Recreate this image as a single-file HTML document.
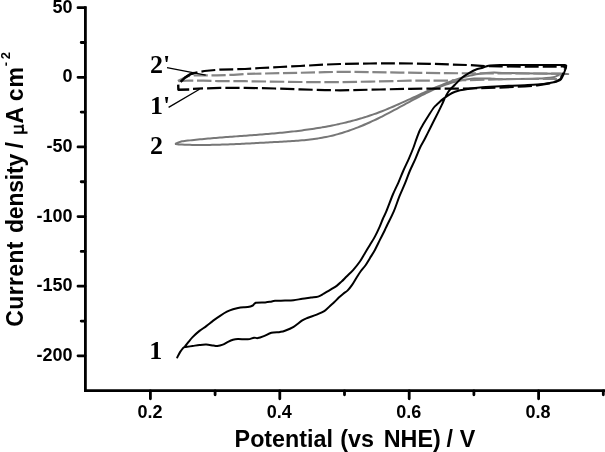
<!DOCTYPE html>
<html><head><meta charset="utf-8"><title>CV</title>
<style>
html,body{margin:0;padding:0;background:#fff;}
body{width:605px;height:452px;overflow:hidden;position:relative;}
svg{position:absolute;left:0;top:0;display:block;filter:grayscale(1);}
.s{font-family:"Liberation Sans",sans-serif;}
.r{font-family:"Liberation Serif",serif;}
</style></head><body>
<svg width="605" height="452" viewBox="0 0 605 452">
<path d="M85.4 6.3 V391.9" stroke="#000" stroke-width="2.8" fill="none"/>
<path d="M84 390.6 H606" stroke="#000" stroke-width="2.8" fill="none"/>
<path d="M78.0 7.66 H85 M78.0 77.30 H85 M78.0 146.94 H85 M78.0 216.58 H85 M78.0 286.22 H85 M78.0 355.86 H85 M81.2 42.48 H85 M81.2 112.12 H85 M81.2 181.76 H85 M81.2 251.40 H85 M81.2 321.04 H85 M150.40 391 V398.8 M279.80 391 V398.8 M409.20 391 V398.8 M538.60 391 V398.8 M215.10 391 V394.8 M344.50 391 V394.8 M473.90 391 V394.8 M603.30 391 V394.8" stroke="#000" stroke-width="2.8" stroke-linecap="round" fill="none"/>
<g class="s" font-weight="bold" font-size="18"><text x="72.5" y="12.7" text-anchor="end">50</text><text x="72.5" y="82.3" text-anchor="end">0</text><text x="72.5" y="151.9" text-anchor="end">-50</text><text x="72.5" y="221.6" text-anchor="end">-100</text><text x="72.5" y="291.2" text-anchor="end">-150</text><text x="72.5" y="360.9" text-anchor="end">-200</text><text x="149.9" y="418.3" text-anchor="middle">0.2</text><text x="279.3" y="418.3" text-anchor="middle">0.4</text><text x="408.7" y="418.3" text-anchor="middle">0.6</text><text x="538.1" y="418.3" text-anchor="middle">0.8</text></g>
<g class="s" font-weight="bold" font-size="23.3"><text x="234.6" y="447.2">Potential</text><text x="340.2" y="447.2">(vs</text><text x="383.8" y="447.2">NHE)</text><text x="446.6" y="447.2">/</text><text x="459.8" y="447.2">V</text></g>
<g class="s" font-weight="bold" font-size="23"><text transform="translate(23.3 326.7) rotate(-90)" textLength="85.2" lengthAdjust="spacing">Current</text><text transform="translate(23.3 233.0) rotate(-90)" textLength="79.2" lengthAdjust="spacing">density</text><text transform="translate(23.3 148.5) rotate(-90)">/</text><text transform="translate(23.3 123.4) rotate(-90)">A</text><text transform="translate(23.3 101.3) rotate(-90)" textLength="34.3" lengthAdjust="spacing">cm</text><text transform="translate(10 66.3) rotate(-90)" font-size="13" letter-spacing="2.7">-2</text></g>
<path d="M13.8 132.6 H27.5 M13.8 126.5 H22.4 M21.6 132.6 C23.6 131.5 23.6 127.5 21.6 126.5 M22.6 126.5 L23 124.6" stroke="#000" stroke-width="2.1" fill="none"/>
<path d="M175.00 143.90 C175.58 143.65 177.33 142.83 178.50 142.40 C179.67 141.97 180.75 141.57 182.00 141.31 C183.25 141.05 184.67 140.98 186.00 140.82 C187.33 140.66 188.67 140.52 190.00 140.37 C191.33 140.22 192.67 140.07 194.00 139.93 C195.33 139.79 196.67 139.65 198.00 139.52 C199.33 139.39 200.67 139.27 202.00 139.14 C203.33 139.01 204.67 138.88 206.00 138.76 C207.33 138.64 208.67 138.53 210.00 138.41 C211.33 138.29 212.67 138.18 214.00 138.07 C215.33 137.96 216.67 137.85 218.00 137.74 C219.33 137.63 220.67 137.53 222.00 137.43 C223.33 137.33 224.67 137.22 226.00 137.12 C227.33 137.02 228.67 136.92 230.00 136.82 C231.33 136.72 232.67 136.62 234.00 136.52 C235.33 136.42 236.67 136.33 238.00 136.23 C239.33 136.13 240.67 136.04 242.00 135.94 C243.33 135.84 244.67 135.75 246.00 135.65 C247.33 135.55 248.67 135.45 250.00 135.35 C251.33 135.25 252.67 135.15 254.00 135.05 C255.33 134.95 256.67 134.85 258.00 134.75 C259.33 134.65 260.67 134.54 262.00 134.43 C263.33 134.32 264.67 134.22 266.00 134.11 C267.33 134.00 268.67 133.89 270.00 133.77 C271.33 133.66 272.67 133.54 274.00 133.42 C275.33 133.30 276.67 133.18 278.00 133.05 C279.33 132.92 280.67 132.79 282.00 132.66 C283.33 132.53 284.67 132.40 286.00 132.26 C287.33 132.12 288.67 131.98 290.00 131.83 C291.33 131.68 292.67 131.53 294.00 131.38 C295.33 131.22 296.67 131.06 298.00 130.90 C299.33 130.74 300.67 130.56 302.00 130.39 C303.33 130.22 304.67 130.04 306.00 129.86 C307.33 129.68 308.67 129.48 310.00 129.29 C311.33 129.09 312.67 128.90 314.00 128.69 C315.33 128.48 316.67 128.27 318.00 128.05 C319.33 127.83 320.67 127.61 322.00 127.38 C323.33 127.15 324.67 126.92 326.00 126.67 C327.33 126.42 328.67 126.17 330.00 125.91 C331.33 125.65 332.67 125.38 334.00 125.11 C335.33 124.84 336.67 124.56 338.00 124.27 C339.33 123.98 340.67 123.69 342.00 123.38 C343.33 123.07 344.67 122.75 346.00 122.43 C347.33 122.11 348.67 121.78 350.00 121.44 C351.33 121.10 352.67 120.74 354.00 120.38 C355.33 120.02 356.67 119.65 358.00 119.27 C359.33 118.89 360.67 118.49 362.00 118.09 C363.33 117.69 364.67 117.28 366.00 116.86 C367.33 116.44 368.67 116.00 370.00 115.55 C371.33 115.10 372.67 114.64 374.00 114.17 C375.33 113.70 376.67 113.22 378.00 112.72 C379.33 112.22 380.67 111.72 382.00 111.20 C383.33 110.68 384.67 110.15 386.00 109.61 C387.33 109.07 388.67 108.51 390.00 107.95 C391.33 107.39 392.67 106.82 394.00 106.24 C395.33 105.66 396.67 105.07 398.00 104.48 C399.33 103.89 400.67 103.29 402.00 102.69 C403.33 102.09 404.67 101.48 406.00 100.87 C407.33 100.26 408.67 99.65 410.00 99.04 C411.33 98.43 412.67 97.81 414.00 97.19 C415.33 96.57 416.67 95.96 418.00 95.35 C419.33 94.74 420.67 94.13 422.00 93.52 C423.33 92.91 424.67 92.31 426.00 91.71 C427.33 91.11 428.67 90.51 430.00 89.92 C431.33 89.33 432.67 88.75 434.00 88.17 C435.33 87.59 436.67 87.03 438.00 86.47 C439.33 85.91 440.67 85.37 442.00 84.83 C443.33 84.29 444.67 83.75 446.00 83.24 C447.33 82.72 448.67 82.23 450.00 81.74 C451.33 81.25 452.67 80.77 454.00 80.31 C455.33 79.85 456.67 79.41 458.00 78.98 C459.33 78.55 460.67 78.13 462.00 77.74 C463.33 77.35 464.67 76.97 466.00 76.62 C467.33 76.27 468.67 75.93 470.00 75.62 C471.33 75.31 472.67 75.01 474.00 74.74 C475.33 74.47 476.67 74.22 478.00 74.00 C479.33 73.78 480.67 73.58 482.00 73.41 C483.33 73.24 484.67 73.09 486.00 72.97 C487.33 72.85 488.67 72.76 490.00 72.70 C491.33 72.64 492.67 72.60 494.00 72.60 C495.33 72.60 496.67 72.62 498.00 72.68 C499.33 72.74 495.50 72.82 502.00 72.96 C508.50 73.10 527.33 73.38 537.00 73.50 C546.67 73.62 554.80 73.62 560.00 73.70 C565.20 73.78 568.08 73.90 568.20 74.00 C568.32 74.10 562.37 74.10 560.70 74.30 C559.03 74.50 559.43 74.72 558.20 75.20 C556.97 75.68 556.80 76.63 553.30 77.20 C549.80 77.77 545.75 78.25 537.20 78.60 C528.65 78.95 508.53 79.22 502.00 79.29 C495.47 79.36 499.33 79.10 498.00 79.01 C496.67 78.92 495.33 78.84 494.00 78.77 C492.67 78.70 491.33 78.63 490.00 78.57 C488.67 78.51 487.33 78.46 486.00 78.43 C484.67 78.40 483.33 78.38 482.00 78.38 C480.67 78.38 479.33 78.39 478.00 78.43 C476.67 78.47 475.33 78.53 474.00 78.61 C472.67 78.69 471.33 78.80 470.00 78.93 C468.67 79.06 467.33 79.22 466.00 79.41 C464.67 79.60 463.33 79.83 462.00 80.08 C460.67 80.33 459.33 80.62 458.00 80.94 C456.67 81.26 455.33 81.61 454.00 81.98 C452.67 82.35 451.33 82.75 450.00 83.18 C448.67 83.61 447.33 84.06 446.00 84.54 C444.67 85.02 443.33 85.52 442.00 86.04 C440.67 86.56 439.33 87.10 438.00 87.66 C436.67 88.22 435.33 88.80 434.00 89.40 C432.67 90.00 431.33 90.62 430.00 91.25 C428.67 91.88 427.33 92.53 426.00 93.18 C424.67 93.84 423.33 94.50 422.00 95.18 C420.67 95.86 419.33 96.55 418.00 97.25 C416.67 97.95 415.33 98.66 414.00 99.37 C412.67 100.08 411.33 100.80 410.00 101.52 C408.67 102.24 407.33 102.97 406.00 103.70 C404.67 104.43 403.33 105.15 402.00 105.88 C400.67 106.61 399.33 107.34 398.00 108.07 C396.67 108.80 395.33 109.52 394.00 110.24 C392.67 110.96 391.33 111.67 390.00 112.38 C388.67 113.09 387.33 113.79 386.00 114.48 C384.67 115.17 383.33 115.85 382.00 116.52 C380.67 117.19 379.33 117.86 378.00 118.51 C376.67 119.16 375.33 119.80 374.00 120.42 C372.67 121.05 371.33 121.66 370.00 122.26 C368.67 122.86 367.33 123.45 366.00 124.03 C364.67 124.61 363.33 125.18 362.00 125.73 C360.67 126.28 359.33 126.82 358.00 127.34 C356.67 127.86 355.33 128.38 354.00 128.87 C352.67 129.37 351.33 129.84 350.00 130.31 C348.67 130.78 347.33 131.23 346.00 131.67 C344.67 132.11 343.33 132.53 342.00 132.93 C340.67 133.33 339.33 133.72 338.00 134.09 C336.67 134.46 335.33 134.82 334.00 135.16 C332.67 135.50 331.33 135.82 330.00 136.12 C328.67 136.42 327.33 136.71 326.00 136.98 C324.67 137.25 323.33 137.50 322.00 137.74 C320.67 137.98 319.33 138.19 318.00 138.40 C316.67 138.61 315.33 138.81 314.00 138.99 C312.67 139.17 311.33 139.34 310.00 139.50 C308.67 139.66 307.33 139.81 306.00 139.95 C304.67 140.09 303.33 140.22 302.00 140.34 C300.67 140.46 299.33 140.58 298.00 140.68 C296.67 140.78 295.33 140.88 294.00 140.97 C292.67 141.06 291.33 141.15 290.00 141.23 C288.67 141.31 287.33 141.39 286.00 141.47 C284.67 141.55 283.33 141.62 282.00 141.69 C280.67 141.76 279.33 141.83 278.00 141.90 C276.67 141.97 275.33 142.04 274.00 142.11 C272.67 142.18 271.33 142.25 270.00 142.32 C268.67 142.39 267.33 142.47 266.00 142.54 C264.67 142.61 263.33 142.69 262.00 142.76 C260.67 142.83 259.33 142.91 258.00 142.98 C256.67 143.05 255.33 143.12 254.00 143.19 C252.67 143.26 251.33 143.34 250.00 143.41 C248.67 143.48 247.33 143.54 246.00 143.61 C244.67 143.68 243.33 143.75 242.00 143.81 C240.67 143.88 239.33 143.94 238.00 144.00 C236.67 144.06 235.33 144.12 234.00 144.18 C232.67 144.24 231.33 144.29 230.00 144.34 C228.67 144.39 227.33 144.44 226.00 144.49 C224.67 144.54 223.33 144.58 222.00 144.62 C220.67 144.66 219.33 144.71 218.00 144.74 C216.67 144.78 215.33 144.80 214.00 144.83 C212.67 144.86 211.33 144.88 210.00 144.90 C208.67 144.92 207.33 144.93 206.00 144.94 C204.67 144.95 203.33 144.96 202.00 144.96 C200.67 144.96 199.33 144.96 198.00 144.95 C196.67 144.94 195.33 144.93 194.00 144.91 C192.67 144.89 191.33 144.87 190.00 144.84 C188.67 144.81 187.33 144.78 186.00 144.74 C184.67 144.70 183.25 144.63 182.00 144.59 C180.75 144.55 179.67 144.62 178.50 144.50 C177.33 144.38 175.58 144.00 175.00 143.90" stroke="#777" stroke-width="2" fill="none" stroke-linejoin="round"/>
<polyline points="177.9,81.1 182.0,79.0 187.2,76.5 193.8,75.4 216.9,75.3 233.5,74.8 247.6,73.9 280.0,73.2 325.0,72.2 340.0,71.8 370.0,72.1 400.0,72.6 420.0,72.8 445.0,73.1 475.0,73.4 505.0,73.4 560.0,73.6 563.0,74.2" stroke="#858585" stroke-width="2.2" fill="none" stroke-dasharray="14.2 3.68" stroke-dashoffset="1.0" stroke-linejoin="round"/>
<polyline points="563.0,74.2 560.0,77.5 557.0,79.0 537.0,79.0 505.0,79.0 470.0,80.1 440.0,80.7 410.0,80.7 370.0,81.6 340.0,82.1 325.0,82.2 300.0,82.0 245.0,81.2 230.2,81.1 218.3,81.1 203.1,80.7 189.8,80.5 177.9,81.1" stroke="#858585" stroke-width="2.2" fill="none" stroke-dasharray="14.5 3.7" stroke-dashoffset="10.61" stroke-linejoin="round"/>
<polyline points="182.6,80.5 186.0,77.2 189.8,74.5 195.0,72.8 204.4,71.0 220.0,69.6 245.0,69.0 260.0,68.0 280.0,67.0 300.0,66.0 325.0,64.6 340.0,64.0 370.0,63.5 400.0,63.3 430.0,63.8 470.0,65.1 485.0,66.1 500.0,66.5 540.0,66.6 563.5,66.5 565.5,67.5 564.6,69.6" stroke="#000" stroke-width="2.2" fill="none" stroke-dasharray="13.9 4.08" stroke-dashoffset="14.51" stroke-linejoin="round"/>
<polyline points="564.6,69.6 562.6,74.6 560.7,78.9 557.0,81.2 549.6,83.4 537.2,85.4 524.8,86.3 505.0,87.4 480.0,88.2 460.0,88.6 440.0,88.6 410.0,88.8 380.0,89.5 340.0,90.3 325.0,90.1 300.0,89.4 275.0,88.5 245.0,87.8 220.0,87.8 204.4,88.4 193.0,88.8" stroke="#000" stroke-width="2.2" fill="none" stroke-dasharray="14.2 4.08" stroke-dashoffset="14.83" stroke-linejoin="round"/>
<polyline points="180.6,81.8 185,77.6 189.8,74.5 194,72.9" stroke="#000" stroke-width="2.4" fill="none" stroke-linejoin="round"/>
<polyline points="189.2,89.5 178.4,89.7 178.2,84.6" stroke="#000" stroke-width="2.4" fill="none" stroke-linejoin="round"/>
<path d="M177.20 357.40 C177.70 356.48 179.23 353.45 180.20 351.90 C181.17 350.35 182.20 349.02 183.00 348.10 C183.80 347.18 184.08 347.43 185.00 346.40 C185.92 345.37 187.23 343.45 188.50 341.90 C189.77 340.35 190.77 338.93 192.60 337.10 C194.43 335.27 197.22 332.73 199.50 330.90 C201.78 329.07 204.02 327.82 206.30 326.10 C208.58 324.38 210.90 322.32 213.20 320.60 C215.50 318.88 217.82 317.28 220.10 315.80 C222.38 314.32 224.75 312.80 226.90 311.70 C229.05 310.60 230.75 309.92 233.00 309.20 C235.25 308.48 237.93 307.75 240.40 307.40 C242.87 307.05 245.73 307.42 247.80 307.10 C249.87 306.78 251.45 306.22 252.80 305.50 C254.15 304.78 253.83 303.32 255.90 302.80 C257.97 302.28 262.83 302.57 265.20 302.40 C267.57 302.23 268.45 302.07 270.10 301.80 C271.75 301.53 272.62 301.00 275.10 300.80 C277.58 300.60 281.92 300.70 285.00 300.60 C288.08 300.50 290.72 300.50 293.60 300.20 C296.48 299.90 299.42 299.23 302.30 298.80 C305.18 298.37 308.27 297.97 310.90 297.60 C313.53 297.23 315.95 297.25 318.10 296.60 C320.25 295.95 321.65 294.90 323.80 293.70 C325.95 292.50 328.80 290.75 331.00 289.40 C333.20 288.05 335.25 286.90 337.00 285.60 C338.75 284.30 339.90 283.12 341.50 281.60 C343.10 280.08 344.63 278.47 346.60 276.50 C348.57 274.53 351.08 272.30 353.30 269.80 C355.52 267.30 357.97 264.27 359.90 261.50 C361.83 258.73 363.23 255.97 364.90 253.20 C366.57 250.43 368.23 247.67 369.90 244.90 C371.57 242.13 373.28 239.62 374.90 236.60 C376.52 233.58 378.25 229.82 379.60 226.80 C380.95 223.78 381.88 221.07 383.00 218.50 C384.12 215.93 384.65 215.40 386.30 211.40 C387.95 207.40 390.87 199.35 392.90 194.50 C394.93 189.65 396.78 186.22 398.50 182.30 C400.22 178.38 401.48 174.92 403.20 171.00 C404.92 167.08 407.08 162.72 408.80 158.80 C410.52 154.88 412.22 150.83 413.50 147.50 C414.78 144.17 415.42 141.72 416.50 138.80 C417.58 135.88 418.87 132.45 420.00 130.00 C421.13 127.55 421.87 126.52 423.30 124.10 C424.73 121.68 426.83 118.27 428.60 115.50 C430.37 112.73 432.35 109.48 433.90 107.50 C435.45 105.52 436.35 105.03 437.90 103.60 C439.45 102.17 441.22 100.45 443.20 98.90 C445.18 97.35 447.82 95.48 449.80 94.30 C451.78 93.12 453.40 92.47 455.10 91.80 C456.80 91.13 457.88 90.78 460.00 90.30 C462.12 89.82 464.47 89.38 467.80 88.90 C471.13 88.42 474.63 87.83 480.00 87.40 C485.37 86.97 494.60 86.58 500.00 86.30 C505.40 86.02 508.27 85.88 512.40 85.70 C516.53 85.52 520.67 85.40 524.80 85.20 C528.93 85.00 533.07 84.88 537.20 84.50 C541.33 84.12 546.30 83.45 549.60 82.90 C552.90 82.35 555.10 81.82 557.00 81.20 C558.90 80.58 559.95 80.27 561.00 79.20 C562.05 78.13 562.60 76.37 563.30 74.80 C564.00 73.23 564.73 71.17 565.20 69.80 C565.67 68.43 566.22 67.38 566.10 66.60 C565.98 65.82 567.18 65.37 564.50 65.10 C561.82 64.83 557.42 65.02 550.00 65.00 C542.58 64.98 528.33 64.98 520.00 65.00 C511.67 65.02 505.00 65.00 500.00 65.10 C495.00 65.20 492.22 65.40 490.00 65.60 C487.78 65.80 487.92 65.95 486.70 66.30 C485.48 66.65 484.37 67.20 482.70 67.70 C481.03 68.20 478.85 68.48 476.70 69.30 C474.55 70.12 472.27 71.18 469.80 72.60 C467.33 74.02 464.38 75.77 461.90 77.80 C459.42 79.83 456.72 83.02 454.90 84.80 C453.08 86.58 452.12 87.30 451.00 88.50 C449.88 89.70 449.18 90.48 448.20 92.00 C447.22 93.52 446.17 95.45 445.10 97.60 C444.03 99.75 443.00 102.35 441.80 104.90 C440.60 107.45 439.45 109.80 437.90 112.90 C436.35 116.00 434.28 119.97 432.50 123.50 C430.72 127.03 428.58 131.35 427.20 134.10 C425.82 136.85 425.38 137.77 424.20 140.00 C423.02 142.23 421.57 144.37 420.10 147.50 C418.63 150.63 417.12 154.88 415.40 158.80 C413.68 162.72 411.52 166.93 409.80 171.00 C408.08 175.07 406.83 178.97 405.10 183.20 C403.37 187.43 401.28 191.70 399.40 196.40 C397.52 201.10 395.83 206.63 393.80 211.40 C391.77 216.17 388.68 221.90 387.20 225.00 C385.72 228.10 386.12 227.52 384.90 230.00 C383.68 232.48 381.57 236.58 379.90 239.90 C378.23 243.22 376.57 246.85 374.90 249.90 C373.23 252.95 371.48 255.60 369.90 258.20 C368.32 260.80 366.90 263.37 365.40 265.50 C363.90 267.63 362.38 268.97 360.90 271.00 C359.42 273.03 357.97 275.38 356.50 277.70 C355.03 280.02 353.57 282.78 352.10 284.90 C350.63 287.02 349.17 288.93 347.70 290.40 C346.23 291.87 344.78 292.50 343.30 293.70 C341.82 294.90 340.28 296.22 338.80 297.60 C337.32 298.98 335.87 300.62 334.40 302.00 C332.93 303.38 331.52 304.52 330.00 305.90 C328.48 307.28 327.52 308.85 325.30 310.30 C323.08 311.75 319.58 313.35 316.70 314.60 C313.82 315.85 310.40 316.83 308.00 317.80 C305.60 318.77 304.70 318.90 302.30 320.40 C299.90 321.90 296.48 325.08 293.60 326.80 C290.72 328.52 287.25 329.85 285.00 330.70 C282.75 331.55 282.37 331.55 280.10 331.90 C277.83 332.25 274.10 332.10 271.40 332.80 C268.70 333.50 266.17 335.22 263.90 336.10 C261.63 336.98 259.45 337.83 257.80 338.10 C256.15 338.37 255.67 337.50 254.00 337.70 C252.33 337.90 250.48 339.07 247.80 339.30 C245.12 339.53 240.37 339.02 237.90 339.10 C235.43 339.18 234.65 339.35 233.00 339.80 C231.35 340.25 229.70 341.00 228.00 341.80 C226.30 342.60 224.58 343.90 222.80 344.60 C221.02 345.30 218.90 345.83 217.30 346.00 C215.70 346.17 215.03 345.83 213.20 345.60 C211.37 345.37 208.58 344.70 206.30 344.60 C204.02 344.50 201.78 344.77 199.50 345.00 C197.22 345.23 194.90 345.67 192.60 346.00 C190.30 346.33 186.85 346.83 185.70 347.00" stroke="#000" stroke-width="2" fill="none" stroke-linejoin="round" stroke-linecap="round"/>
<g class="r" font-weight="bold" font-size="26"><text x="150" y="73.2">2'</text><text x="150" y="114.1">1'</text><text x="150" y="154">2</text><text x="149.3" y="358.8">1</text></g>
<path d="M167 67.6 L205.7 75.2 M168.6 107.4 L199.5 89.3" stroke="#000" stroke-width="1.3" fill="none"/>
</svg>
</body></html>
